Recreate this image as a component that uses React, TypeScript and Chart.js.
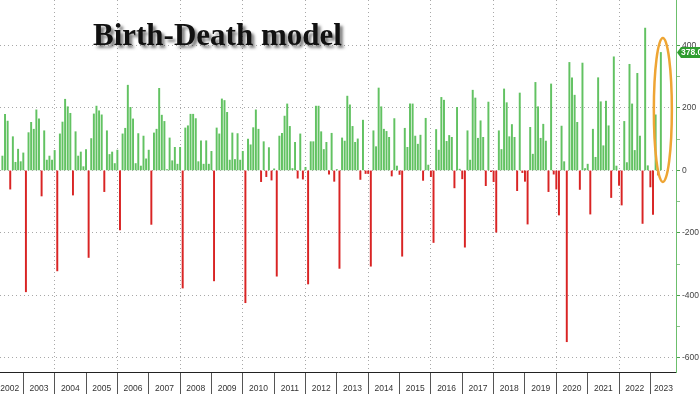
import { useEffect, useRef } from 'react';
import { Chart, registerables } from 'chart.js';

Chart.register(...registerables);

// Monthly BLS birth-death adjustment (thousands). First visible month: April 2002.
const firstYear = 2002;
const firstMonth = 4;
const bd2002 = [46, 180, 158, -60, 108, 26, 68, 28, 56];
const bd2003 = [-389, 121, 154, 132, 194, 165, -82, 127, 33, 46, 33, 64];
const bd2004 = [-322, 117, 155, 228, 204, 183, -79, 124, 46, 59, 12, 67];
const bd2005 = [-279, 102, 181, 206, 191, 178, -68, 127, 51, 59, 22, 65];
const bd2006 = [-191, 117, 135, 273, 202, 165, 22, 118, 14, 110, 37, 65];
const bd2007 = [-173, 120, 132, 263, 177, 157, 3, 104, 31, 74, 20, 74];
const bd2008 = [-377, 136, 143, 180, 180, 166, 28, 95, 20, 95, 20, 61];
const bd2009 = [-354, 136, 117, 229, 224, 186, 33, 120, 35, 118, 33, 61];
const bd2010 = [-424, 100, 82, 137, 194, 132, -36, 92, -20, 73, -31, 5];
const bd2011 = [-339, 110, 119, 174, 213, 141, 6, 90, -25, 117, -28, 10];
const bd2012 = [-364, 92, 92, 206, 206, 124, 67, 90, -12, 119, -35, 3];
const bd2013 = [-314, 104, 94, 238, 210, 141, 90, 101, -29, 161, -10, -10];
const bd2014 = [-307, 127, 76, 264, 204, 132, 125, 106, -18, 166, 14, -13];
const bd2015 = [-275, 135, 74, 213, 213, 110, 84, 113, -32, 167, 17, -20];
const bd2016 = [-231, 131, 65, 234, 225, 93, 112, 106, -56, 202, 4, -27];
const bd2017 = [-246, 127, 33, 257, 232, 103, 159, 106, -49, 219, -4, -36];
const bd2018 = [-198, 127, 67, 261, 217, 108, 147, 106, -65, 248, -7, -35];
const bd2019 = [-172, 138, 52, 282, 204, 103, 148, 94, -68, 277, -12, -60];
const bd2020 = [-143, 142, 28, -549, 346, 297, 241, 154, -61, 344, 6, 20];
const bd2021 = [-140, 132, 42, 297, 220, 79, 222, 143, -87, 364, 14, -48];
const bd2022 = [-111, 157, 25, 340, 213, 64, 311, 110, -170, 456, 15, -53];
const bd2023 = [-141, 178, -15, 378];

const yearSeries = [
  bd2002, bd2003, bd2004, bd2005, bd2006, bd2007, bd2008, bd2009, bd2010, bd2011, bd2012,
  bd2013, bd2014, bd2015, bd2016, bd2017, bd2018, bd2019, bd2020, bd2021, bd2022, bd2023,
];
const yearLabels = [
  '2002', '2003', '2004', '2005', '2006', '2007', '2008', '2009', '2010', '2011', '2012',
  '2013', '2014', '2015', '2016', '2017', '2018', '2019', '2020', '2021', '2022', '2023',
];
const yTicks = [-600, -500, -400, -300, -200, -100, 0, 100, 200, 300, 400];
const titleText = 'Birth-Death model';
const highlightTop = 424;
const highlightBottom = -37;

// x = months since Dec 2001 (month-end position)
const points: { x: number; y: number }[] = [];
yearSeries.forEach((arr, yi) => {
  const m0 = yi === 0 ? firstMonth : 1;
  arr.forEach((v, i) => points.push({ x: yi * 12 + m0 + i, y: v }));
});

const X_MIN = 3.08;
const X_MAX = 261.8;
const Y_MIN = -646;
const Y_MAX = 546;

const GREEN = '#62c262';
const RED = '#d92424';

const isBoundary = (v: number) => Math.abs(v - Math.round(v / 12) * 12) < 1e-6;

const overlay = {
  id: 'overlay',
  afterDraw(chart: any) {
    const { ctx, scales } = chart;
    const x = scales.x;
    const y = scales.y;
    const last = points[points.length - 1];
    ctx.save();
    // highlight ellipse
    const cx = x.getPixelForValue(last.x) + 2;
    const top = y.getPixelForValue(highlightTop);
    const bot = y.getPixelForValue(highlightBottom);
    ctx.beginPath();
    ctx.ellipse(cx, (top + bot) / 2, 9, (bot - top) / 2, 0, 0, Math.PI * 2);
    ctx.strokeStyle = '#eea534';
    ctx.lineWidth = 2.5;
    ctx.stroke();

    // last value box
    const vy = y.getPixelForValue(last.y);
    const bx = chart.chartArea.right + 3;
    ctx.fillStyle = '#2f9d2f';
    ctx.beginPath();
    ctx.moveTo(bx - 2, vy);
    ctx.lineTo(bx + 2, vy - 5.5);
    ctx.lineTo(bx + 40, vy - 5.5);
    ctx.lineTo(bx + 40, vy + 5.5);
    ctx.lineTo(bx + 2, vy + 5.5);
    ctx.closePath();
    ctx.fill();
    ctx.fillStyle = '#ffffff';
    ctx.font = 'bold 8.5px "Liberation Sans", Arial, sans-serif';
    ctx.textBaseline = 'middle';
    ctx.textAlign = 'left';
    ctx.fillText(last.y.toFixed(1), bx + 2, vy + 0.5);

    // title
    ctx.font = 'bold 31px "Liberation Serif", "Times New Roman", serif';
    ctx.textBaseline = 'alphabetic';
    ctx.shadowColor = 'rgba(0,0,0,0.5)';
    ctx.shadowOffsetX = 3;
    ctx.shadowOffsetY = 3;
    ctx.shadowBlur = 3;
    ctx.fillStyle = '#111111';
    ctx.fillText(titleText, 93, 44.5);
    ctx.restore();
  },
};

export default function App() {
  const ref = useRef<HTMLCanvasElement | null>(null);
  useEffect(() => {
    document.body.style.margin = '0';
    document.body.style.overflow = 'hidden';
    const canvas = ref.current;
    if (!canvas) return;
    const boundaries: number[] = [];
    for (let k = 1; k < yearLabels.length; k++) boundaries.push(k * 12);
    const mids: number[] = yearLabels.map((_, i) => {
      if (i === 0) return 6.8;
      if (i === yearLabels.length - 1) return i * 12 + 5;
      return i * 12 + 6;
    });
    const xTickValues = [...boundaries, ...mids].sort((a, b) => a - b);

    const chart = new Chart(canvas, {
      type: 'bar',
      data: {
        datasets: [
          {
            data: points as any,
            backgroundColor: (c: any) => (c.raw && c.raw.y >= 0 ? GREEN : RED),
            borderWidth: 0,
            barThickness: 1.3,
          },
        ],
      },
      plugins: [overlay],
      options: {
        animation: false,
        responsive: false,
        maintainAspectRatio: false,
        layout: { padding: 0 },
        plugins: { legend: { display: false }, tooltip: { enabled: false }, title: { display: false } },
        scales: {
          x: {
            type: 'linear',
            position: 'bottom',
            min: X_MIN,
            max: X_MAX,
            offset: false,
            afterBuildTicks: (scale: any) => {
              scale.ticks = xTickValues.map((v) => ({ value: v }));
            },
            afterFit: (scale: any) => {
              scale.height = 22;
              scale.paddingLeft = 0;
              scale.paddingRight = 0;
            },
            grid: {
              offset: false,
              drawOnChartArea: true,
              drawTicks: true,
              tickLength: 22,
              color: (c: any) => {
                const v = c.tick ? c.tick.value : 0;
                if (!isBoundary(v)) return 'rgba(0,0,0,0)';
                const yr = firstYear + Math.round(v / 12);
                return yr % 2 === 0 ? '#a8a8a8' : 'rgba(0,0,0,0)';
              },
              tickColor: (c: any) => {
                const v = c.tick ? c.tick.value : 0;
                return isBoundary(v) ? '#555555' : 'rgba(0,0,0,0)';
              },
              tickBorderDash: [],
              lineWidth: 1,
            },
            border: { display: true, color: '#222222', width: 1, dash: [1, 3] },
            ticks: {
              autoSkip: false,
              maxRotation: 0,
              minRotation: 0,
              padding: -10,
              color: '#333333',
              font: { family: '"Liberation Sans", Arial, sans-serif', size: 8.5 },
              callback: (value: any) => {
                const v = Number(value);
                if (isBoundary(v)) return '';
                const idx = mids.indexOf(v);
                return idx >= 0 ? yearLabels[idx] : '';
              },
            },
          },
          y: {
            type: 'linear',
            position: 'right',
            min: Y_MIN,
            max: Y_MAX,
            afterBuildTicks: (scale: any) => {
              scale.ticks = yTicks.map((v) => ({ value: v }));
            },
            afterFit: (scale: any) => {
              scale.width = 24;
              scale.paddingTop = 0;
              scale.paddingBottom = 0;
            },
            grid: {
              drawOnChartArea: true,
              drawTicks: true,
              tickLength: 4,
              color: (c: any) => {
                const v = c.tick ? c.tick.value : 0;
                return v % 200 === 0 ? '#a8a8a8' : 'rgba(0,0,0,0)';
              },
              tickColor: (c: any) => {
                const v = c.tick ? c.tick.value : 0;
                return v % 200 === 0 ? '#4f9f4f' : '#8cc08c';
              },
              tickBorderDash: [],
              lineWidth: 1,
            },
            border: { display: true, color: '#6cbf6c', width: 1, dash: [1, 3] },
            ticks: {
              padding: 2,
              color: '#444444',
              font: { family: '"Liberation Sans", Arial, sans-serif', size: 8.5 },
              callback: (value: any) => (Number(value) % 200 === 0 ? String(value) : ''),
            },
          },
        },
      } as any,
    });
    return () => chart.destroy();
  }, []);
  return (
    <canvas
      ref={ref}
      width={700}
      height={394}
      style={{ display: 'block', width: '700px', height: '394px' }}
    />
  );
}
